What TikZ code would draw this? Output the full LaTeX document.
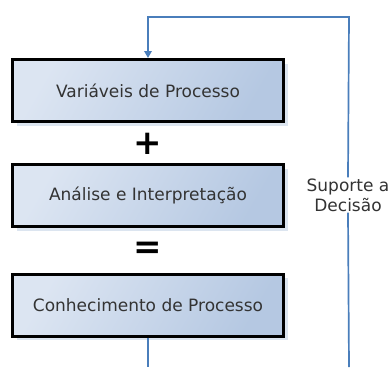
\documentclass[tikz,border=0pt]{standalone}
\usepackage{fontspec}
\setmainfont{DejaVu Sans}
\usetikzlibrary{arrows.meta,shadows}
\definecolor{flowblue}{HTML}{4A7EBB}
\definecolor{boxlight}{HTML}{DCE5F2}
\definecolor{boxdark}{HTML}{B5C8E2}
\definecolor{shadowc}{HTML}{DCE5F0}
\definecolor{txt}{HTML}{333333}
\tikzset{
  stagebox/.style={draw=black, line width=3pt, minimum width=271pt, minimum height=62pt,
    left color=boxlight, right color=boxdark, shading angle=60,
    drop shadow={shadow xshift=4pt, shadow yshift=-4pt, fill=shadowc, opacity=1},
    font=\fontsize{17}{20}\selectfont, text=txt, inner sep=0pt},
  opsign/.style={font=\fontsize{34}{34}\selectfont\bfseries, text=black, inner sep=0pt},
  loopline/.style={draw=flowblue, line width=1.7pt},
  steplabel/.style={fill=white, align=center, font=\fontsize{17}{20}\selectfont, text=txt, inner sep=1pt}
}
\begin{document}
\begin{tikzpicture}[x=1pt,y=-1pt]
  \useasboundingbox (0,0) rectangle (391,367);
  % three stages of the process
  \node[stagebox] (var) at (148,90.5) {Variáveis de Processo};
  \node[stagebox] (ana) at (148,195.5) {Análise e Interpretação};
  \node[stagebox] (con) at (148,305) {Conhecimento de Processo};
  % operators between the stages
  \node[opsign] (plus) at (148,144) {+};
  \node[opsign] (eq) at (148,250) {=};
  % feedback loop
  \coordinate (bl) at (148,367);
  \coordinate (br) at (349,367);
  \coordinate (tr) at (349,17);
  \coordinate (tl) at (148,17);
  \node[steplabel] (dec) at (348,195) {Suporte a\\Decisão};
  \draw[loopline] (con.south) -- (bl);
  \draw[loopline] (br) -- (dec.south);
  \draw[loopline, -{Triangle[length=7pt,width=7.5pt]}] (dec.north) -- (tr) -- (tl) -- (var.north);
\end{tikzpicture}
\end{document}
